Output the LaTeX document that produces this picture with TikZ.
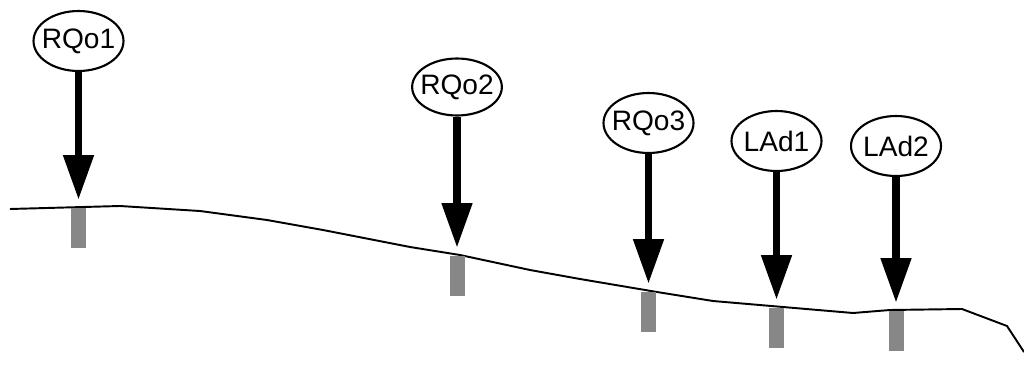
\documentclass[tikz,border=0pt]{standalone}
\usepackage{fontspec}
\setmainfont{Liberation Sans}
\usetikzlibrary{arrows.meta,shapes.geometric}

\begin{document}
\begin{tikzpicture}[x=0.02cm,y=-0.02cm,
                    main node/.style={ellipse,draw,line width=1.2pt,inner ysep=0pt,inner xsep=-0.1cm,
                      minimum width=1.8cm,minimum height=1.2cm,font=\fontsize{16}{19}\selectfont},
                    bar/.style={rectangle,fill=black!47,inner sep=0pt,anchor=north,
                      minimum width=0.3cm,minimum height=0.8cm},
                    load/.style={line width=4.5pt,-{Triangle[length=0.9cm,width=0.58cm]},shorten >=0.16cm}]
  \useasboundingbox (0,0) rectangle (1024,385);

  % ground profile
  \draw[line width=1.1pt,line join=round] (10,209) -- (120,206) -- (200,211) -- (267,220)
    -- (323,230) -- (410,247) -- (460,255) -- (530,270) -- (580,279) -- (657,292)
    -- (713,301) -- (853,313) -- (890,310) -- (962,309) -- (1007,326) -- (1024,352);

  \node[bar] (b1) at (78.5,208) {};
  \node[bar] (b2) at (457,256) {};
  \node[bar] (b3) at (648.5,292) {};
  \node[bar] (b4) at (776.5,308) {};
  \node[bar] (b5) at (896,311) {};

  \node[main node] (rqo1) at (78.5,41) {RQo1};
  \node[main node,minimum width=1.74cm,minimum height=1.14cm] (rqo2) at (457,87) {RQo2};
  \node[main node] (rqo3) at (648.5,123) {RQo3};
  \node[main node] (lad1) at (776.5,141) {LAd1};
  \node[main node] (lad2) at (896,146) {LAd2};

  \draw[load] (rqo1) -- (b1.north);
  \draw[load] (rqo2) -- (b2.north);
  \draw[load] (rqo3) -- (b3.north);
  \draw[load] (lad1) -- (b4.north);
  \draw[load] (lad2) -- (b5.north);
\end{tikzpicture}
\end{document}
